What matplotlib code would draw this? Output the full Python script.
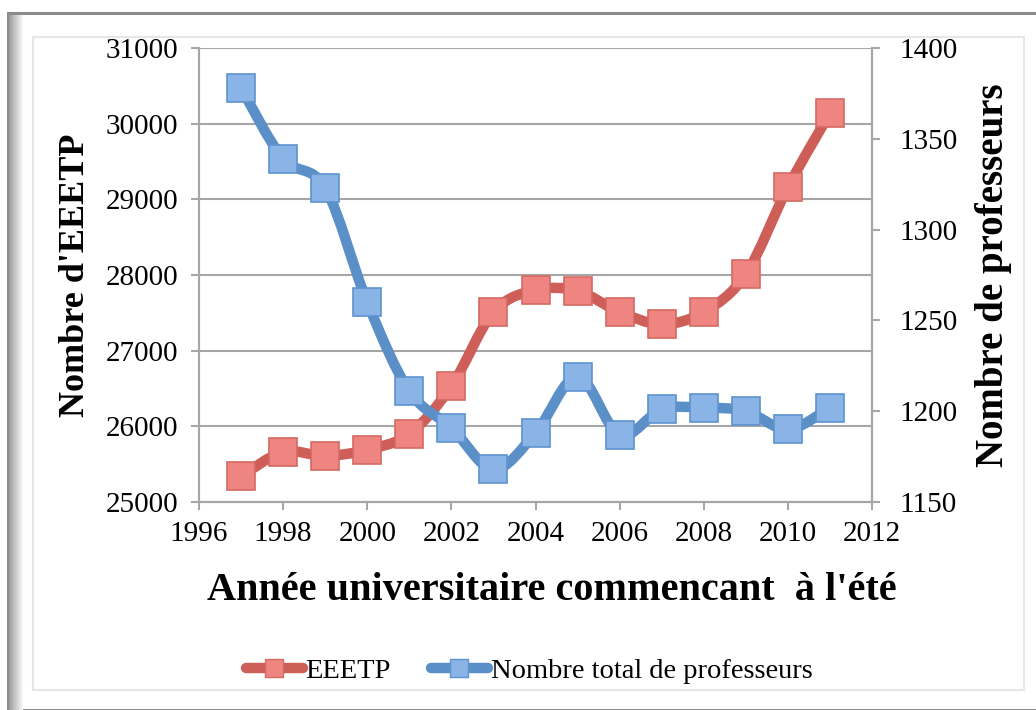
import numpy as np
import matplotlib
matplotlib.use("Agg")
import matplotlib.pyplot as plt
from matplotlib.path import Path
from matplotlib.patches import PathPatch, Rectangle
from matplotlib.lines import Line2D

years = [1997, 1998, 1999, 2000, 2001, 2002, 2003, 2004, 2005, 2006, 2007, 2008, 2009, 2010, 2011]
eeetp = [25340, 25660, 25610, 25690, 25900, 26530, 27510, 27800, 27790, 27510, 27350, 27510, 28010, 29160, 30140]
professeurs = [1378, 1339, 1323, 1260, 1211, 1191, 1168, 1188, 1219, 1187, 1201, 1202, 1200, 1190, 1202]

left_ticks = [25000, 26000, 27000, 28000, 29000, 30000, 31000]
right_ticks = [1150, 1200, 1250, 1300, 1350, 1400]
x_ticks = [1996, 1998, 2000, 2002, 2004, 2006, 2008, 2010, 2012]

plt.rcParams['font.family'] = ['Liberation Serif', 'DejaVu Serif']

RED_LINE = '#CD5E58'
RED_FACE = '#EE8580'
RED_EDGE = '#D46A64'
BLUE_LINE = '#5A8FC7'
BLUE_FACE = '#8AB3E6'
BLUE_EDGE = '#5E93D0'
GRID = '#A6A6A6'
LW = 7.5
MS = 20


def smooth_path(x, y):
    x = np.asarray(x, float)
    y = np.asarray(y, float)
    n = len(x)
    verts = [(x[0], y[0])]
    codes = [Path.MOVETO]
    for i in range(n - 1):
        x0, y0 = (x[i - 1], y[i - 1]) if i > 0 else (x[i], y[i])
        x3, y3 = (x[i + 2], y[i + 2]) if i + 2 < n else (x[i + 1], y[i + 1])
        c1 = (x[i] + (x[i + 1] - x0) / 6.0, y[i] + (y[i + 1] - y0) / 6.0)
        c2 = (x[i + 1] - (x3 - x[i]) / 6.0, y[i + 1] - (y3 - y[i]) / 6.0)
        verts += [c1, c2, (x[i + 1], y[i + 1])]
        codes += [Path.CURVE4] * 3
    return Path(verts, codes)


fig = plt.figure(figsize=(10.36, 7.10), dpi=100)

# frame
fig.patches.append(Rectangle((8 / 1036, 0), 1.2, (697) / 710, transform=fig.transFigure,
                             facecolor='#ffffff', edgecolor='#8c8c8c', lw=2.2, zorder=-3))
for i, c in enumerate(np.linspace(0.62, 0.97, 14)):
    fig.patches.append(Rectangle(((9 + i) / 1036, 0), 1.2 / 1036, 695 / 710, transform=fig.transFigure,
                                 facecolor=str(c), edgecolor='none', zorder=-2))
fig.patches.append(Rectangle((33 / 1036, 20 / 710), (1024 - 33) / 1036, (673 - 20) / 710,
                             transform=fig.transFigure, facecolor='none',
                             edgecolor='#e6e6e6', lw=1.5, zorder=-1))

ax = fig.add_axes([199 / 1036, 208 / 710, (872 - 199) / 1036, (502 - 48) / 710])
ax2 = ax.twinx()
ax.set_zorder(1)
ax2.set_zorder(2)
ax.patch.set_visible(False)
ax2.patch.set_visible(False)

# EEETP
ax.add_patch(PathPatch(smooth_path(years, eeetp), facecolor='none', edgecolor=RED_LINE,
                       lw=LW, capstyle='round', joinstyle='round', zorder=3))
ax.plot(years, eeetp, linestyle='none', marker='s', markersize=MS,
        markerfacecolor=RED_FACE, markeredgecolor=RED_EDGE, markeredgewidth=1.2, zorder=4)

# professeurs
ax2.add_patch(PathPatch(smooth_path(years, professeurs), facecolor='none', edgecolor=BLUE_LINE,
                        lw=LW, capstyle='round', joinstyle='round', zorder=3))
ax2.plot(years, professeurs, linestyle='none', marker='s', markersize=MS,
         markerfacecolor=BLUE_FACE, markeredgecolor=BLUE_EDGE, markeredgewidth=1.2, zorder=4)

ax.set_xlim(1996, 2012)
ax.set_ylim(25000, 31000)
ax2.set_ylim(1150, 1400)
ax.set_xticks(x_ticks)
ax.set_yticks(left_ticks)
ax2.set_yticks(right_ticks)
ax.yaxis.grid(True, color=GRID, lw=1.5)
ax.set_axisbelow(True)

for a in (ax, ax2):
    for s in a.spines.values():
        s.set_color(GRID)
        s.set_linewidth(1.5)
    a.spines['top'].set_visible(False)
    a.tick_params(direction='out', length=6, width=1.5, color=GRID, labelsize=21,
                  labelcolor='black')
ax.tick_params(axis='y', pad=9)
ax.tick_params(axis='x', pad=8)
ax2.tick_params(axis='y', pad=14)

ax.set_ylabel("Nombre d'EEETP", fontsize=26, fontweight='bold', labelpad=10)
ax2.set_ylabel("Nombre de professeurs", fontsize=28, fontweight='bold', labelpad=12)
ax.set_xlabel("Année universitaire commencant  à l'été", fontsize=29, fontweight='bold', labelpad=18)
ax.xaxis.label.set_x((552 - 199) / 673)

h1 = Line2D([], [], color=RED_LINE, lw=LW, marker='s', markersize=13,
            markerfacecolor=RED_FACE, markeredgecolor=RED_EDGE, solid_capstyle='round')
h2 = Line2D([], [], color=BLUE_LINE, lw=LW, marker='s', markersize=13,
            markerfacecolor=BLUE_FACE, markeredgecolor=BLUE_EDGE, solid_capstyle='round')
fig.legend([h1, h2], ['EEETP', 'Nombre total de professeurs'], loc='center',
           bbox_to_anchor=(529 / 1036, 1 - 671 / 710), ncol=2, frameon=False,
           fontsize=20.5, handlelength=2.0, handletextpad=0.1, columnspacing=1.4, numpoints=1)

fig.savefig('out.png', dpi=100)
